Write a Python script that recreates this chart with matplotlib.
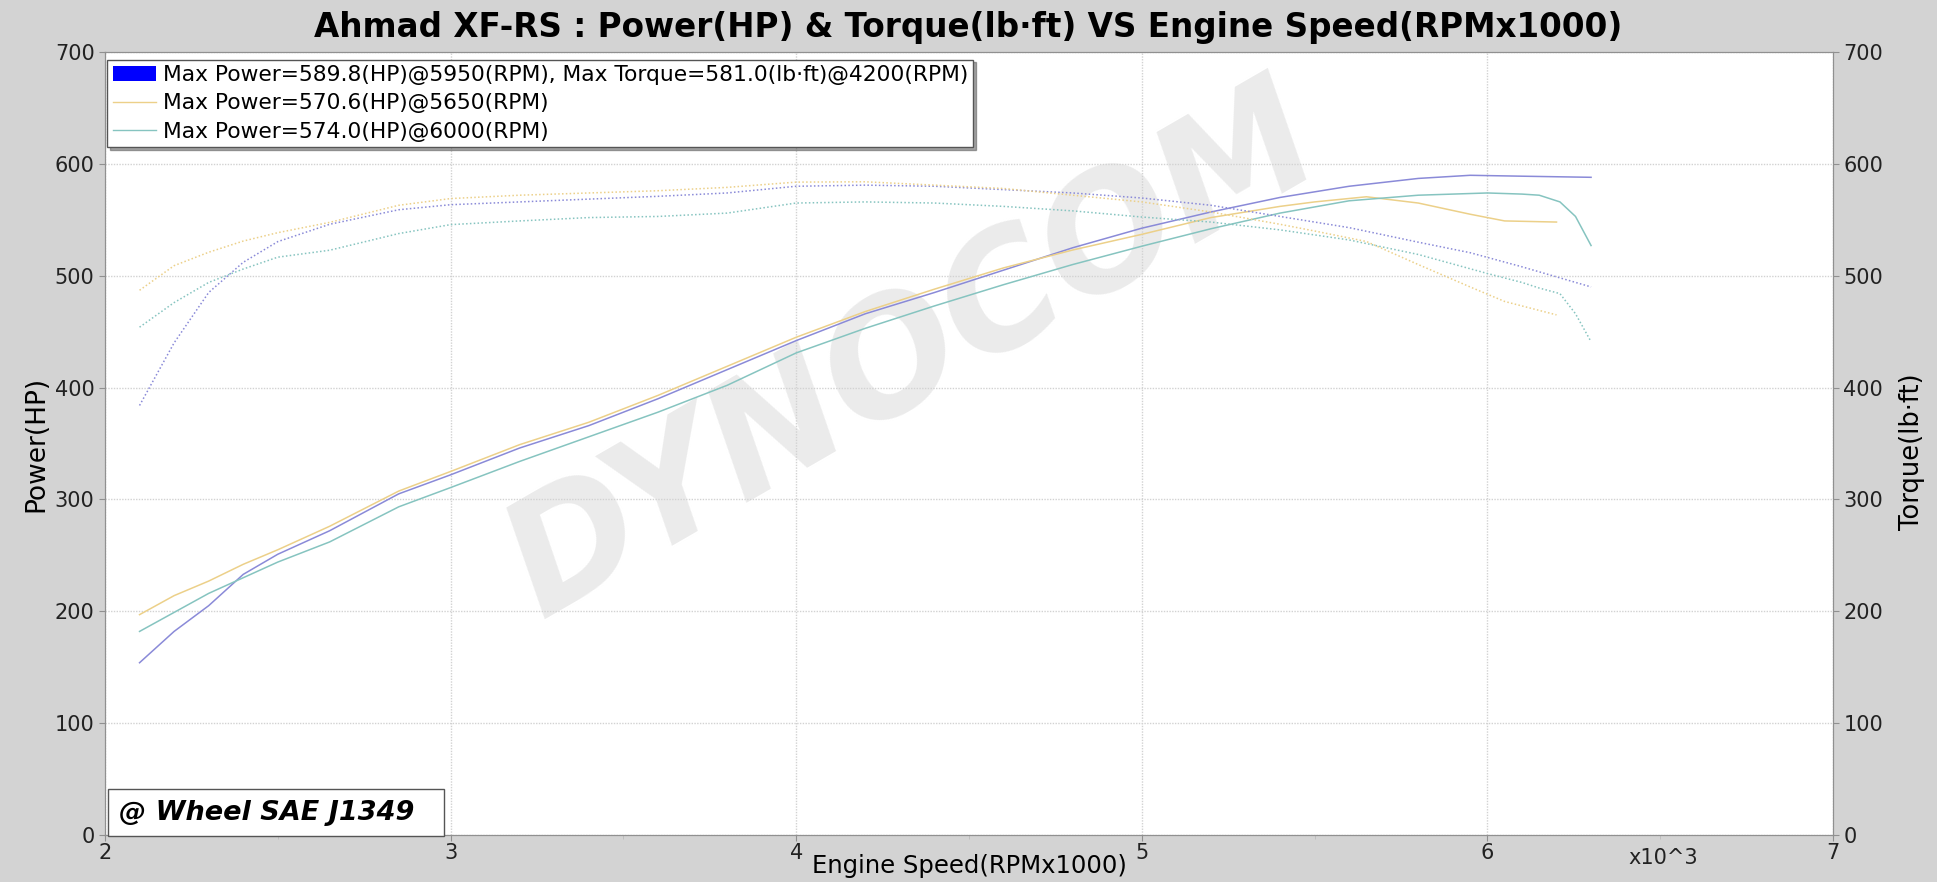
import matplotlib
matplotlib.use("Agg")
import matplotlib.pyplot as plt
from matplotlib.patches import Patch
from matplotlib.lines import Line2D

# Run 1 (purple)
rpm1 = [2.1, 2.2, 2.3, 2.4, 2.5, 2.65, 2.85, 3.0, 3.2, 3.4, 3.6, 3.8, 4.0, 4.2, 4.4,
        4.6, 4.8, 5.0, 5.2, 5.4, 5.6, 5.8, 5.95, 6.1, 6.3]
hp1 = [154, 182, 205, 233, 251, 272, 305, 322, 346, 366, 390, 416, 442, 466, 485,
       505, 525, 542.5, 557, 570, 580, 587, 589.8, 589, 588]
tq1 = [384, 440, 485, 512, 530.5, 546, 559, 563.5, 566, 568.5, 571, 574, 580, 581, 580,
       577, 574, 569.5, 563, 553, 543, 530, 520.6, 508, 490]

# Run 2 (yellow)
rpm2 = [2.1, 2.2, 2.3, 2.4, 2.5, 2.65, 2.85, 3.0, 3.2, 3.4, 3.6, 3.8, 4.0, 4.2, 4.4,
        4.6, 4.8, 5.0, 5.2, 5.4, 5.5, 5.65, 5.8, 5.95, 6.05, 6.2]
hp2 = [197, 214, 227, 242, 255, 276, 307.5, 325, 349, 369, 393, 419, 445, 468, 488,
       507, 523, 537, 552, 562, 566, 570.6, 565, 555, 549, 548]
tq2 = [487, 509, 521, 531, 538.5, 547.7, 563, 569, 572, 574, 576, 579, 583.7, 584, 581,
       578, 572, 566, 557, 546, 540, 530.6, 510, 490, 477, 465]

# Run 3 (teal)
rpm3 = [2.1, 2.2, 2.3, 2.4, 2.5, 2.65, 2.85, 3.0, 3.2, 3.4, 3.6, 3.8, 4.0, 4.2, 4.4,
        4.6, 4.8, 5.0, 5.2, 5.4, 5.6, 5.8, 6.0, 6.1, 6.15, 6.21, 6.255, 6.3]
hp3 = [182, 199, 216, 230, 244, 262, 293.4, 310.6, 334, 356, 378, 402, 431, 453, 473,
       492, 510, 526.4, 542, 556, 567, 572, 574, 573, 572, 566, 553, 527]
tq3 = [454, 476, 494, 506, 516.6, 522.8, 537.7, 545.7, 549, 552, 553, 556, 565, 566, 565,
       562, 558, 552.5, 548, 541, 532, 519, 502, 494, 489, 484, 466, 441]

legend_labels = [
    "Max Power=589.8(HP)@5950(RPM), Max Torque=581.0(lb\u00b7ft)@4200(RPM)",
    "Max Power=570.6(HP)@5650(RPM)",
    "Max Power=574.0(HP)@6000(RPM)",
]
colors = ["#8a8ad8", "#ecd089", "#86c4c0"]
y_ticks = [0, 100, 200, 300, 400, 500, 600, 700]
x_ticks = [2, 3, 4, 5, 6, 7]

fig = plt.figure(figsize=(19.37, 8.82), dpi=100, facecolor="#d3d3d3")
ax = fig.add_axes([0.0542, 0.0533, 0.8921, 0.8877])
ax2 = ax.twinx()

ax.set_xlim(2, 7)
ax.set_ylim(0, 700)
ax2.set_ylim(0, 700)
ax.set_xticks(x_ticks)
ax.set_xticks([2.5, 3.5, 4.5, 5.5, 6.5], minor=True)
ax.set_yticks(y_ticks)
ax2.set_yticks(y_ticks)
ax.grid(True, which="major", color="#d2d2d2", linestyle=(0, (1, 1)), linewidth=1)
ax.set_axisbelow(True)

for a in (ax, ax2):
    for s in a.spines.values():
        s.set_color("#909090")
    a.tick_params(labelsize=15, colors="#909090", labelcolor="#222222", length=4)
ax.tick_params(axis="x", which="minor", length=3, colors="#bbbbbb")
ax.tick_params(axis="x", pad=2)

# watermark
ax.text(0.468, 0.615, "DYNOCOM", transform=ax.transAxes, rotation=30,
        fontsize=114, fontweight="bold", fontstyle="italic", color="#ebebeb",
        ha="center", va="center", zorder=0)

for rpm, hp, tq, c in [(rpm1, hp1, tq1, colors[0]), (rpm2, hp2, tq2, colors[1]),
                       (rpm3, hp3, tq3, colors[2])]:
    ax.plot(rpm, hp, color=c, linewidth=1.1, zorder=3)
    ax2.plot(rpm, tq, color=c, linewidth=1.1, linestyle=(0, (1, 1.5)), zorder=3)

ax.set_ylabel("Power(HP)", fontsize=19, labelpad=4)
ax2.set_ylabel("Torque(lb\u00b7ft)", fontsize=18.5)
ax2.yaxis.set_label_coords(1.038, 0.49)
ax.set_xlabel("Engine Speed(RPMx1000)", fontsize=17.5, labelpad=-7)
ax.text(0.902, -0.017, "x10^3", transform=ax.transAxes, fontsize=15,
        ha="center", va="top", color="#222222")

fig.text(0.5, 0.969, "Ahmad XF-RS : Power(HP) & Torque(lb\u00b7ft) VS Engine Speed(RPMx1000)",
         fontsize=23.5, fontweight="bold", ha="center", va="center")

handles = [Patch(facecolor="blue", edgecolor="none"),
           Line2D([], [], color=colors[1], linewidth=1),
           Line2D([], [], color=colors[2], linewidth=1)]
leg = ax2.legend(handles, legend_labels, loc="upper left", bbox_to_anchor=(0.0, 0.993),
                 fontsize=15.7, frameon=True, fancybox=False, shadow=True,
                 handlelength=2.0, handletextpad=0.3, borderpad=0.25, labelspacing=0.38,
                 borderaxespad=0.1)
leg.get_frame().set_edgecolor("#555555")
leg.get_frame().set_linewidth(1)

ax2.text(0.008, 0.012, "@ Wheel SAE J1349  ", transform=ax.transAxes, fontsize=19.5,
         fontweight="heavy", fontstyle="italic", ha="left", va="bottom",
         bbox=dict(boxstyle="square,pad=0.4", facecolor="white", edgecolor="#555555"))

fig.savefig("out.png", dpi=100, facecolor=fig.get_facecolor())
